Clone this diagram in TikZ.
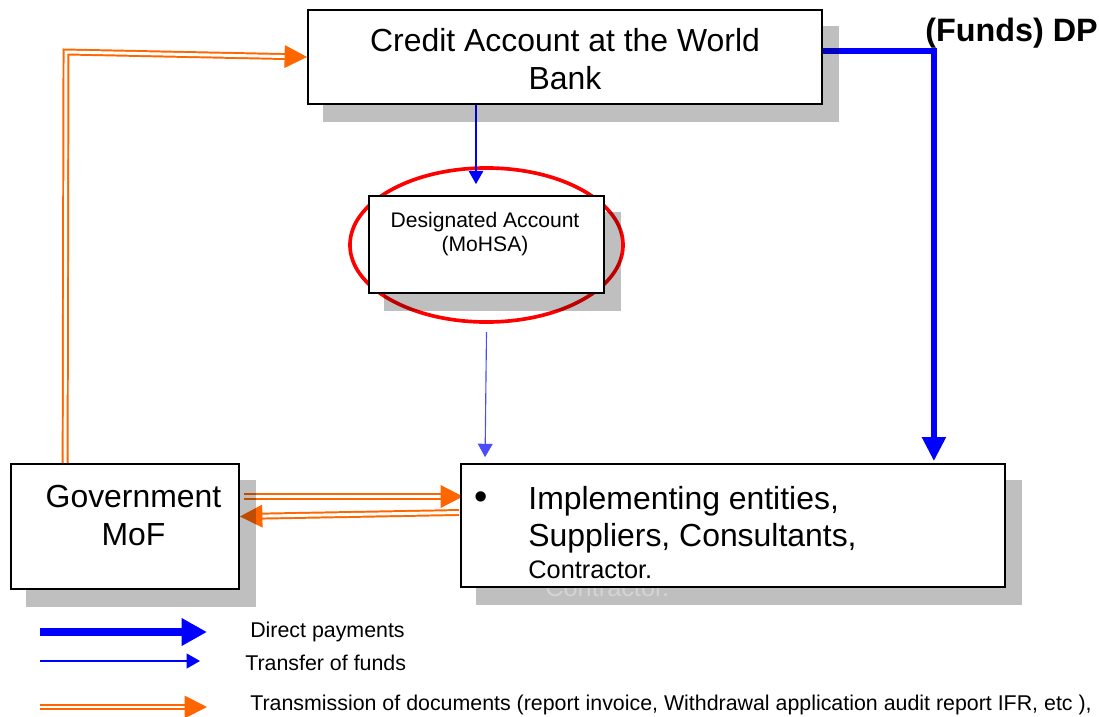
\documentclass[tikz,border=0pt]{standalone}
\usepackage{fontspec}
\setmainfont{Liberation Sans}
\usetikzlibrary{arrows.meta,positioning,calc,shapes.geometric}

\definecolor{docorange}{HTML}{FF6600}
\pgfdeclarelayer{background}
\pgfdeclarelayer{shade}
\pgfsetlayers{background,shade,main}

\tikzset{
  acct/.style={draw, line width=1.2pt, fill=white, inner sep=0pt},
  ring/.style={ellipse, draw=red, line width=2.6pt},
  direct/.style={-{Triangle[length=17pt,width=16pt]}, blue, line width=4.4pt},
  fund/.style={-{Triangle[length=9.5pt,width=10.5pt]}, blue, line width=0.8pt},
  doc/.style={-{Triangle[length=16pt,width=16pt]}, docorange, double=white,
              double distance=2.1pt, line width=1.4pt},
  big/.style={font=\fontsize{22.7}{27}\selectfont},
  small/.style={font=\fontsize{15}{17}\selectfont},
  key/.style={font=\fontsize{15.2}{18}\selectfont, anchor=west, inner sep=0pt}
}

\begin{document}
\begin{tikzpicture}[x=0.025cm, y=-0.025cm]
  \useasboundingbox (0,0) rectangle (1099,717);

  % accounts and the people paid from them
  \node[acct, minimum width=12.85cm, minimum height=2.35cm] (wb) at (565,57) {};
  \node[big, align=center, inner sep=0pt] (wbtext) at ($(wb.center)+(0,2)$)
    {Credit Account at the World\\Bank};
  \node[acct, minimum width=5.875cm, minimum height=2.425cm] (da) at (486.5,244.5) {};
  \node[small, align=center, anchor=north, inner sep=0pt] (datext) at ($(da.north)+(-1.5,16.5)$)
    {Designated Account\\(MoHSA)};
  \node[acct, minimum width=5.7cm, minimum height=3.125cm] (mof) at (125,526.5) {};
  \node[big, align=center, anchor=north, inner sep=0pt] (moftext) at ($(mof.north)+(8.5,22)$)
    {Government\\MoF};
  \node[acct, minimum width=13.6cm, minimum height=3.075cm] (imp) at (733,525.5) {};
  \node[big, anchor=north west, inner sep=0pt] (imptext) at ($(imp.north west)+(14,19)$)
    {\begin{tabular}{@{}l@{\hspace{29pt}}l@{}}
       {\fontsize{27}{27}\selectfont\textbullet} & Implementing entities,\\
                   & Suppliers, Consultants,\\[-4.3pt]
                   & {\fontsize{18}{21}\selectfont Contractor.}
     \end{tabular}};
  \node[font=\fontsize{23}{26}\selectfont\bfseries, anchor=base west, inner sep=0pt] (dp) at (925,41)
    {(Funds) DP};

  % drop shadows
  \begin{pgfonlayer}{shade}
    \foreach \b in {wb,da,mof,imp}
      \fill[black, opacity=0.25] ($(\b.south west)+(16,17)$) rectangle ($(\b.north east)+(16,17)$);
    \node[font=\fontsize{18}{21}\selectfont, text=black!17, anchor=base west, inner sep=0pt] (ghost)
      at ($(imp.south west)+(85,9)$) {Contractor.};
  \end{pgfonlayer}

  % flows
  \begin{pgfonlayer}{background}
    \node[ring, minimum width=6.825cm, minimum height=3.85cm] (ring) at (486.5,245) {};
    \draw[direct] ($(wb.east)+(0,-6)$) -| ($(imp.north east)+(-72,-2)$);
    \draw[fund] ($(wb.south)+(-89,0)$) -- ($(da.north)+(-10.5,-11)$);
    \draw[fund, blue!70] ($(ring.south)+(0,8)$) -- ($(imp.north west)+(25,-6)$);
    \coordinate (bend) at (66,52);
    \draw[doc] ($(mof.north west)+(55,0)$) -- (bend) -- (wb.west);
    \draw[doc] ($(mof.east)+(4,-30)$) -- ($(imp.west)+(3,-29)$);
    \draw[doc] ($(imp.west)+(-1,-13)$) -- ($(mof.east)+(0,-10)$);
  \end{pgfonlayer}

  % legend
  \node[key] (kdirect) at (250,632) {Direct payments};
  \node[key] (kfund) at (245,663) {Transfer of funds};
  \node[key] (kdoc) at (250,705) {Transmission of documents (report invoice, Withdrawal application audit report IFR, etc ),};
  \coordinate (k1) at (40,632);
  \coordinate (k2) at (40,661);
  \coordinate (k3) at (40,707);
  \draw[direct, line width=5pt, -{Triangle[length=18pt,width=18.5pt]}] (k1) -- ($(kdirect.west)+(-43,0)$);
  \draw[fund, line width=1.2pt] (k2) -- ($(kfund.west)+(-45,-2)$);
  \draw[doc] (k3) -- ($(kdoc.west)+(-43,2)$);
\end{tikzpicture}
\end{document}
